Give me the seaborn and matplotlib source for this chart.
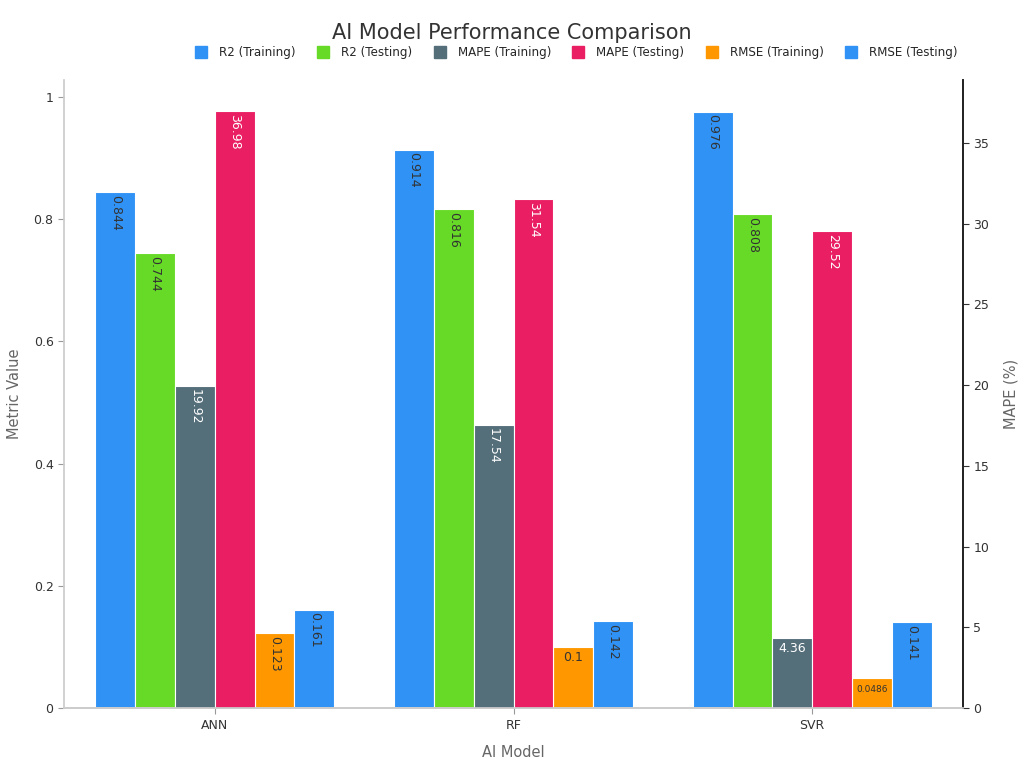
import numpy as np
import pandas as pd
import matplotlib
matplotlib.use('Agg')
import matplotlib.pyplot as plt
from matplotlib.lines import Line2D
import seaborn as sns

models = ['ANN', 'RF', 'SVR']
series = ['R2 (Training)', 'R2 (Testing)', 'MAPE (Training)', 'MAPE (Testing)',
          'RMSE (Training)', 'RMSE (Testing)']
r2_train = [0.844, 0.914, 0.976]
r2_test = [0.744, 0.816, 0.808]
mape_train = [19.92, 17.54, 4.36]
mape_test = [36.98, 31.54, 29.52]
rmse_train = [0.123, 0.1, 0.0486]
rmse_test = [0.161, 0.142, 0.141]
colors = ['#3092F5', '#66DA26', '#546E7A', '#E91E63', '#FF9800', '#3092F5']

values = [r2_train, r2_test, mape_train, mape_test, rmse_train, rmse_test]
rows = []
for s, vals in zip(series, values):
    for m, v in zip(models, vals):
        rows.append({'model': m, 'series': s, 'value': v})
df = pd.DataFrame(rows)
is_mape = df['series'].str.startswith('MAPE')
df['left'] = df['value'].where(~is_mape)
df['right'] = df['value'].where(is_mape)

sns.set_theme(style='white')
plt.rcParams['font.family'] = ['DejaVu Sans']

fig = plt.figure(figsize=(10.24, 7.68), dpi=100)
ax = fig.add_axes([0.0625, 0.078, 0.878, 0.818])
ax2 = ax.twinx()

palette = dict(zip(series, colors))
sns.barplot(data=df, x='model', y='left', hue='series', hue_order=series, order=models,
            palette=palette, saturation=1, ax=ax, width=0.8, edgecolor='white',
            linewidth=0.8, errorbar=None, legend=False)
sns.barplot(data=df, x='model', y='right', hue='series', hue_order=series, order=models,
            palette=palette, saturation=1, ax=ax2, width=0.8, edgecolor='white',
            linewidth=0.8, errorbar=None, legend=False)

ax.set_xlim(-0.505, 2.505)
ax.set_ylim(0, 1.028)
ax2.set_ylim(0, 38.9)
ax2.set_yticks([0, 5, 10, 15, 20, 25, 30, 35])
ax.set_yticks([0, 0.2, 0.4, 0.6, 0.8, 1.0])
ax.set_yticklabels(['0', '0.2', '0.4', '0.6', '0.8', '1'])


# value labels inside bars, white on dark bars
def label_bars(axis, ymax):
    for patch in axis.patches:
        h = patch.get_height()
        if not np.isfinite(h) or h <= 0:
            continue
        r, g, b, _ = patch.get_facecolor()
        lum = 0.299 * r + 0.587 * g + 0.114 * b
        tc = 'white' if lum < 0.5 else '#333333'
        txt = f'{h:g}'
        x = patch.get_x() + patch.get_width() / 2
        frac = h / ymax
        if frac < 0.05:
            axis.annotate(txt, (x, h), xytext=(0, -4.5), textcoords='offset points',
                          ha='center', va='top', fontsize=6.5, color=tc)
        elif frac < 0.115:
            axis.annotate(txt, (x, h), xytext=(0, -3), textcoords='offset points',
                          ha='center', va='top', fontsize=9, color=tc)
        else:
            axis.annotate(txt, (x, h), xytext=(0, -2), textcoords='offset points',
                          ha='center', va='top', fontsize=9, color=tc, rotation=-90)


label_bars(ax, 1.028)
label_bars(ax2, 38.9)

ax.spines['top'].set_visible(False)
ax2.spines['top'].set_visible(False)
ax.spines['left'].set_color('#cccccc')
ax.spines['bottom'].set_color('#cccccc')
ax2.spines['left'].set_visible(False)
ax2.spines['bottom'].set_color('#cccccc')
ax2.spines['right'].set_color('#222222')

ax.tick_params(axis='both', which='both', length=4, width=0.8, colors='#999999',
               labelcolor='#333333', labelsize=9, left=True, bottom=True)
ax2.tick_params(axis='y', length=4, width=0.8, colors='#333333', labelsize=9, right=True)

ax.set_xlabel('AI Model', fontsize=10.5, color='#666666', labelpad=10)
ax.set_ylabel('Metric Value', fontsize=10.5, color='#666666', labelpad=8)
ax2.set_ylabel('MAPE (%)', fontsize=10.5, color='#666666', labelpad=10)

fig.suptitle('AI Model Performance Comparison', fontsize=15, color='#333333', y=0.97)

handles = [Line2D([0], [0], marker='s', linestyle='none', markersize=8,
                  markerfacecolor=c, markeredgecolor=c) for c in colors]
fig.legend(handles, series, loc='center', bbox_to_anchor=(0.56, 0.931), ncol=6,
           frameon=False, fontsize=8.6, handletextpad=0.5, columnspacing=1.3)

fig.savefig('out.png', dpi=100)
